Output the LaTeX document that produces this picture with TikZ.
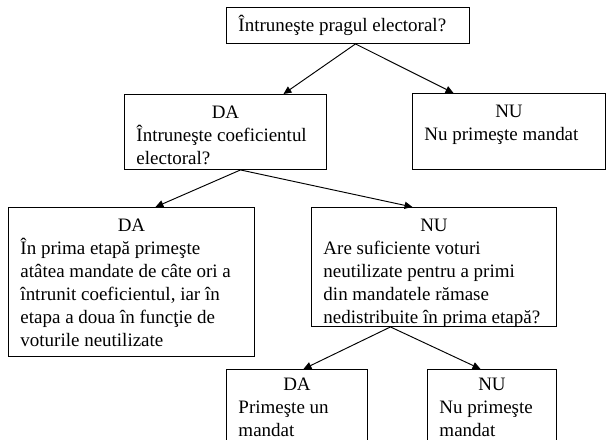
\documentclass[tikz,border=0pt]{standalone}
\usepackage{fontspec}
\setmainfont{Liberation Serif}
\usetikzlibrary{arrows.meta}
\newdimen\px
\px=0.632pt
\newcommand{\boxtext}[3]{%
\begin{minipage}[t][#2][t]{#1}%
\fontsize{12}{14.5}\selectfont%
\leftskip=12\px \rightskip=0pt plus 1fil \parindent=0pt%
#3%
\end{minipage}}
\newcommand{\head}[2][24]{{\centering\rule{0pt}{#1\px}#2\par}}
\tikzset{
  box/.style={draw, line width=0.6pt, inner sep=0pt, anchor=north west},
  arr/.style={line width=0.6pt, -{Triangle[length=5pt, width=4.5pt]}}
}
\begin{document}
\begin{tikzpicture}[x=0.632pt, y=-0.632pt]%
\useasboundingbox (0,0) rectangle (606,440);%
\clip (0,0) rectangle (606,440);%
\node[box] (top) at (226,7) {\boxtext{243\px}{36\px}{\rule{0pt}{24\px}Întruneşte pragul electoral?}};%
\node[box] (da1) at (124,94) {\boxtext{202\px}{75\px}{\head{DA}Întruneşte coeficientul\\electoral?}};%
\node[box] (nu1) at (412,93) {\boxtext{193\px}{76\px}{\head{NU}Nu primeşte mandat}};%
\node[box] (da2) at (8,207) {\boxtext{246\px}{149\px}{\head{DA}În prima etapă primeşte\\atâtea mandate de câte ori a\\întrunit coeficientul, iar în\\etapa a doua în funcţie de\\voturile neutilizate}};%
\node[box] (nu2) at (311,207) {\boxtext{245\px}{119\px}{\head{NU}Are suficiente voturi\\neutilizate pentru a primi\\din mandatele rămase\\nedistribuite în prima etapă?}};%
\node[box] (da3) at (226,369) {\boxtext{141\px}{80\px}{\head[21]{DA}Primeşte un\\mandat}};%
\node[box] (nu3) at (427,369) {\boxtext{129\px}{80\px}{\head[21]{NU}Nu primeşte\\mandat}};%
\draw[arr] ([xshift=7.5\px]top.south) -- ([xshift=58\px]da1.north);%
\draw[arr] ([xshift=7.5\px]top.south) -- ([xshift=-55.5\px]nu1.north);%
\draw[arr] ([xshift=15\px]da1.south) -- ([xshift=24\px]da2.north);%
\draw[arr] ([xshift=15\px]da1.south) -- ([xshift=-21.5\px]nu2.north);%
\draw[arr] ([xshift=-43.5\px]nu2.south) -- ([xshift=6.5\px]da3.north);%
\draw[arr] ([xshift=-43.5\px]nu2.south) -- ([xshift=-11.5\px]nu3.north);%
\end{tikzpicture}
\end{document}
